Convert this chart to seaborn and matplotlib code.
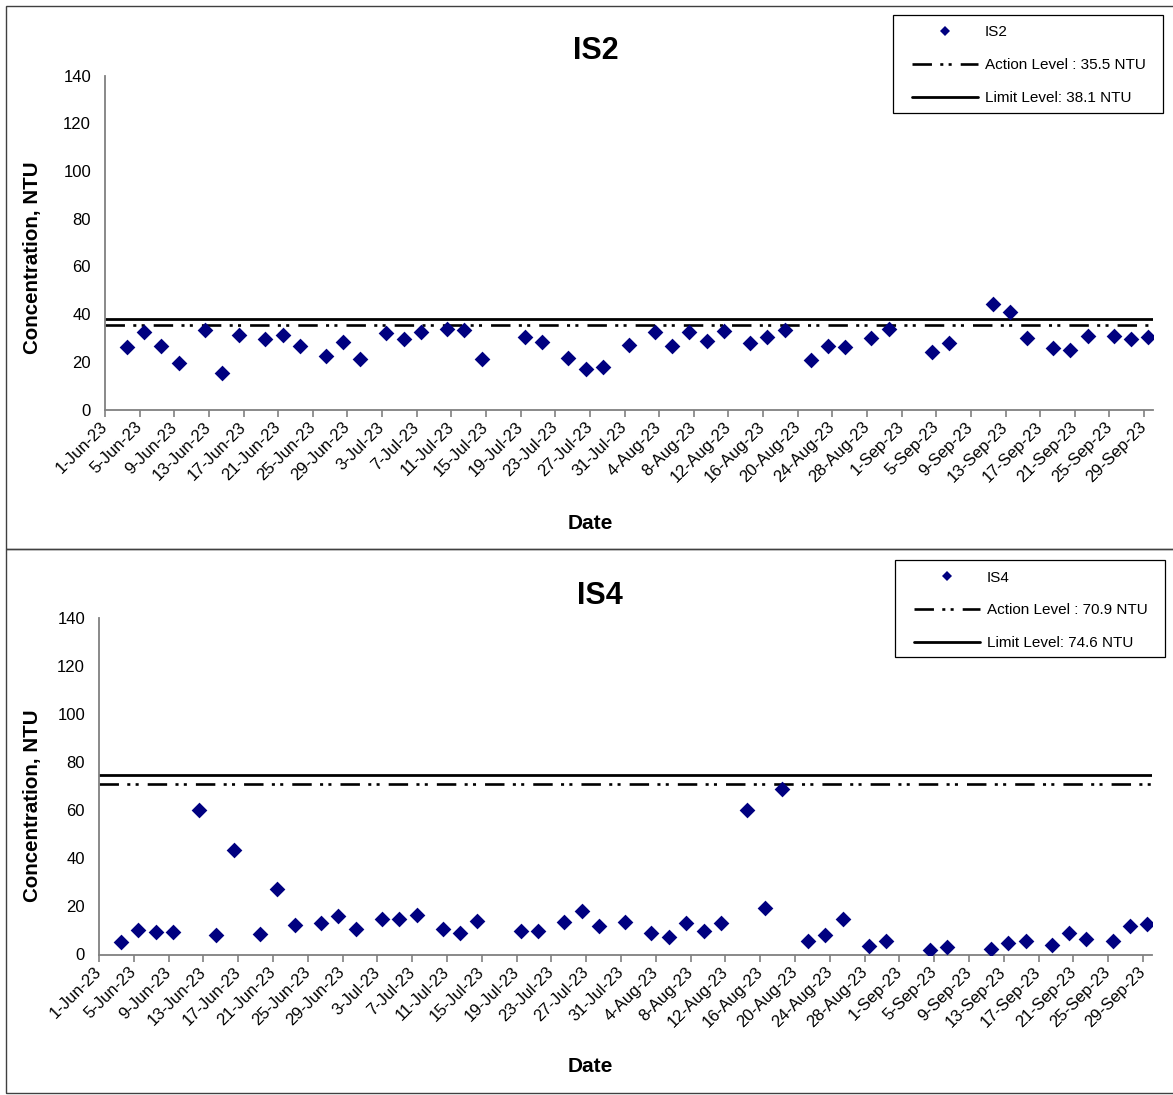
import matplotlib
matplotlib.use("Agg")
import matplotlib.pyplot as plt
from matplotlib.lines import Line2D
from matplotlib.patches import Rectangle
import seaborn as sns
import pandas as pd

# ---------------- data ----------------
sample_dates = [
    "2023-06-03", "2023-06-05", "2023-06-07", "2023-06-09", "2023-06-12", "2023-06-14", "2023-06-16",
    "2023-06-19", "2023-06-21", "2023-06-23", "2023-06-26", "2023-06-28", "2023-06-30",
    "2023-07-03", "2023-07-05", "2023-07-07", "2023-07-10", "2023-07-12", "2023-07-14",
    "2023-07-19", "2023-07-21", "2023-07-24", "2023-07-26", "2023-07-28", "2023-07-31",
    "2023-08-03", "2023-08-05", "2023-08-07", "2023-08-09", "2023-08-11", "2023-08-14", "2023-08-16",
    "2023-08-18", "2023-08-21", "2023-08-23", "2023-08-25", "2023-08-28", "2023-08-30",
    "2023-09-04", "2023-09-06", "2023-09-11", "2023-09-13", "2023-09-15", "2023-09-18",
    "2023-09-20", "2023-09-22", "2023-09-25", "2023-09-27", "2023-09-29",
]
is2_values = [
    26.1, 32.6, 26.8, 19.5, 33.5, 15.4, 31.1, 29.4, 31.1, 26.6, 22.3, 28.3, 21.3,
    31.9, 29.4, 32.4, 33.9, 33.2, 21.3, 30.4, 28.4, 21.4, 16.9, 17.8, 27.2,
    32.4, 26.8, 32.3, 28.9, 32.7, 27.8, 30.3, 33.5, 20.6, 26.8, 26.3, 30.0, 33.9,
    24.1, 27.8, 44.2, 40.8, 30.0, 25.9, 25.0, 30.6, 31.0, 29.5, 30.5,
]
is4_values = [
    5.0, 10.3, 9.2, 9.4, 60.2, 8.2, 43.3, 8.7, 27.2, 12.1, 13.0, 15.9, 10.7,
    14.9, 14.9, 16.3, 10.7, 8.9, 14.0, 9.6, 9.6, 13.7, 18.3, 11.7, 13.5,
    8.9, 7.1, 12.9, 9.7, 12.9, 60.1, 19.5, 68.8, 5.6, 8.2, 14.9, 3.6, 5.6,
    1.9, 3.2, 2.1, 4.6, 5.6, 4.0, 9.0, 6.4, 5.6, 12.0, 12.8,
]
stations = ["IS2", "IS4"]
action_levels = [35.5, 70.9]
limit_levels = [38.1, 74.6]
y_ticks = [0, 20, 40, 60, 80, 100, 120, 140]
x_start, x_end = "2023-06-01", "2023-09-30"

# ---------------- styling ----------------
sns.set_theme(style="white")
plt.rcParams["font.family"] = ["Liberation Sans", "DejaVu Sans"]
plt.rcParams["lines.scale_dashes"] = False
plt.rcParams["text.color"] = "black"

W, H = 1173, 1095
fig = plt.figure(figsize=(W / 100, H / 100), dpi=100)

def fx(px):
    return px / W

def fy(py):
    return 1 - py / H

# layout in pixel coords
ax_px = [(105, 75.5, 1152.7, 409.5), (99, 618, 1151.7, 954.5)]
panel_px = [(6, 6, 1190, 549), (6, 549, 1190, 1093)]
title_px = [(596, 51), (600, 596)]
date_px = [(590, 523), (590, 1067)]
ylab_px = [(33, 258), (33, 806)]
legbox_px = [(893, 15, 1163, 113), (895, 560, 1165, 657)]
leganchor_px = [(912, 25), (914, 570.5)]

navy = "#000080"
spine_col = "#808080"
dashdotdot = (0, (14, 6, 2.2, 3.8, 2.2, 6.5))

# dates plotted at mid-day (Excel date-axis category centre)
x_dt = pd.to_datetime(sample_dates) + pd.Timedelta(hours=12)
tick_dates = pd.date_range("2023-06-01", "2023-09-29", freq="4D")
tick_labels = [f"{d.day}-{d.strftime('%b-%y')}" for d in tick_dates]

series = [is2_values, is4_values]

for i in range(2):
    # panel frame
    l, t, r, b = panel_px[i]
    fig.patches.append(Rectangle((fx(l), fy(b)), fx(r) - fx(l), fy(t) - fy(b),
                                 transform=fig.transFigure, fill=False,
                                 edgecolor="#404040", linewidth=1.0, zorder=0))
    l, t, r, b = ax_px[i]
    ax = fig.add_axes([fx(l), fy(b), fx(r) - fx(l), fy(t) - fy(b)])
    df = pd.DataFrame({"date": x_dt, "value": series[i]})
    sns.scatterplot(data=df, x="date", y="value", ax=ax, marker="D", s=64,
                    color=navy, edgecolor=navy, linewidth=0, zorder=3, legend=False)
    ax.axhline(action_levels[i], color="black", linewidth=1.9,
               linestyle=dashdotdot, zorder=2)
    ax.axhline(limit_levels[i], color="black", linewidth=2.0, zorder=2)

    ax.set_xlim(pd.Timestamp(x_start), pd.Timestamp(x_end))
    ax.set_ylim(0, 140)
    ax.set_yticks(y_ticks)
    ax.set_xticks(tick_dates)
    ax.set_xticklabels(tick_labels, rotation=45, ha="right", va="center",
                       rotation_mode="anchor")
    ax.set_xlabel("")
    ax.set_ylabel("")
    for s in ["top", "right"]:
        ax.spines[s].set_visible(False)
    for s in ["left", "bottom"]:
        ax.spines[s].set_color(spine_col)
        ax.spines[s].set_linewidth(1.3)
    ax.tick_params(axis="both", which="major", direction="out", length=5,
                   width=1.2, color=spine_col, labelsize=12, labelcolor="black")
    ax.tick_params(axis="y", pad=5)
    ax.tick_params(axis="x", pad=6, bottom=True)
    ax.grid(False)
    ax.set_facecolor("none")

    fig.text(fx(title_px[i][0]), fy(title_px[i][1]), stations[i], ha="center",
             va="center", fontsize=22, fontweight="bold", color="black")
    fig.text(fx(date_px[i][0]), fy(date_px[i][1]), "Date", ha="center",
             va="center", fontsize=15, fontweight="bold", color="black")
    fig.text(fx(ylab_px[i][0]), fy(ylab_px[i][1]), "Concentration, NTU",
             ha="center", va="center", rotation=90, fontsize=14.8,
             fontweight="bold", color="black")

    # legend box
    l, t, r, b = legbox_px[i]
    fig.patches.append(Rectangle((fx(l), fy(b)), fx(r) - fx(l), fy(t) - fy(b),
                                 transform=fig.transFigure, facecolor="white",
                                 edgecolor="black", linewidth=0.9, zorder=5))
    handles = [
        Line2D([], [], linestyle="none", marker="D", markersize=5.5,
               color=navy, markeredgewidth=0),
        Line2D([], [], color="black", linewidth=1.9, linestyle=dashdotdot),
        Line2D([], [], color="black", linewidth=2.0),
    ]
    labels = [stations[i], f"Action Level : {action_levels[i]} NTU",
              f"Limit Level: {limit_levels[i]} NTU"]
    leg = fig.legend(handles, labels, loc="upper left",
                     bbox_to_anchor=(fx(leganchor_px[i][0]), fy(leganchor_px[i][1])),
                     bbox_transform=fig.transFigure, borderaxespad=0, borderpad=0,
                     fontsize=11, frameon=False, labelcolor="black",
                     handlelength=4.3, handletextpad=0.45, labelspacing=1.24)
    leg.set_zorder(6)

fig.savefig("out.png", dpi=100, facecolor="white")
